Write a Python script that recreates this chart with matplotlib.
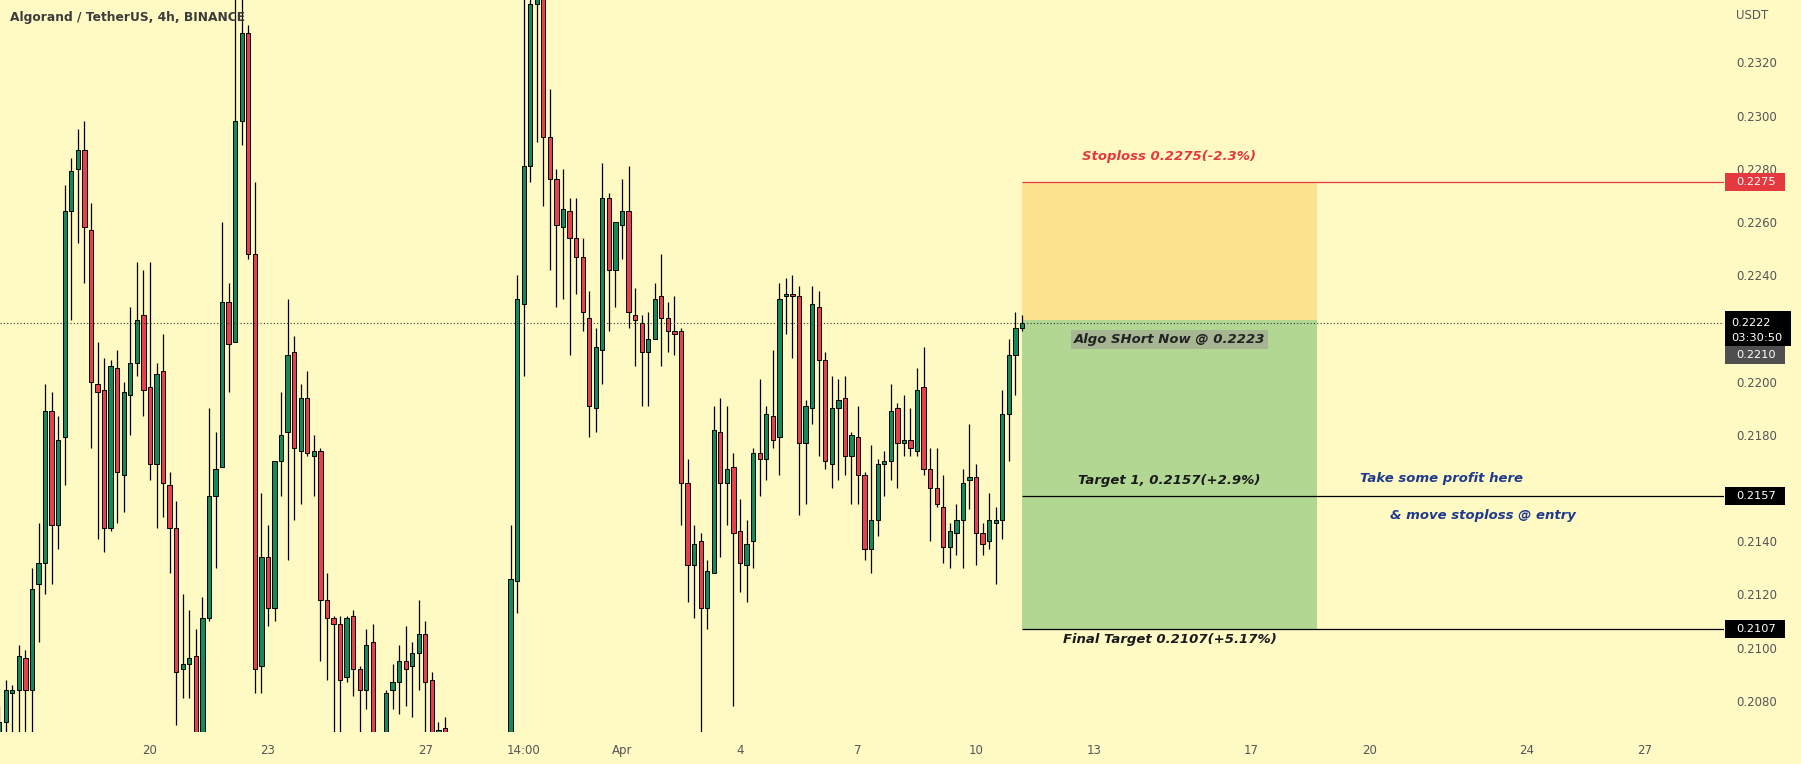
"""
ALGO/USDT 4h chart with a short position idea (stop, entry and two targets).
"""

import numpy as np
import pandas as pd
import matplotlib
matplotlib.use("Agg")
import matplotlib.pyplot as plt
from matplotlib.patches import Rectangle
from matplotlib.transforms import blended_transform_factory

matplotlib.style.use({
    'font.family': ['DejaVu Sans'],
    'font.size': 9.0,
    'axes.unicode_minus': False,
})

# 4h candles, first bar opens at first_bar
first_bar = "2023-03-16 06:00"
opens = [0.2064, 0.2072, 0.2083, 0.2084, 0.2096, 0.2084, 0.2124, 0.2132, 0.2189, 0.2146,
         0.2179, 0.2264, 0.2280, 0.2287, 0.2257, 0.2199, 0.2197, 0.2145, 0.2205, 0.2165,
         0.2195, 0.2207, 0.2225, 0.2198, 0.2169, 0.2204, 0.2161, 0.2145, 0.2092, 0.2094,
         0.2097, 0.2055, 0.2111, 0.2157, 0.2168, 0.2230, 0.2215, 0.2298, 0.2331, 0.2248,
         0.2093, 0.2134, 0.2115, 0.2170, 0.2181, 0.2211, 0.2174, 0.2194, 0.2172, 0.2174,
         0.2118, 0.2111, 0.2109, 0.2089, 0.2112, 0.2092, 0.2084, 0.2102, 0.2060, 0.2055,
         0.2084, 0.2087, 0.2095, 0.2093, 0.2098, 0.2105, 0.2088, 0.2062, 0.2070, 0.2062,
         0.2035, 0.2020, 0.2030, 0.2045, 0.2025, 0.2040, 0.2050, 0.2040, 0.2055, 0.2125,
         0.2229, 0.2281, 0.2342, 0.2350, 0.2292, 0.2276, 0.2258, 0.2264, 0.2254, 0.2247,
         0.2224, 0.2190, 0.2212, 0.2269, 0.2242, 0.2259, 0.2264, 0.2225, 0.2222, 0.2211,
         0.2216, 0.2232, 0.2224, 0.2219, 0.2219, 0.2162, 0.2131, 0.2140, 0.2115, 0.2128,
         0.2181, 0.2162, 0.2168, 0.2144, 0.2131, 0.2140, 0.2173, 0.2171, 0.2187, 0.2179,
         0.2232, 0.2233, 0.2232, 0.2177, 0.2190, 0.2228, 0.2208, 0.2169, 0.2190, 0.2194,
         0.2172, 0.2179, 0.2165, 0.2137, 0.2148, 0.2169, 0.2170, 0.2190, 0.2177, 0.2178,
         0.2174, 0.2198, 0.2167, 0.2160, 0.2153, 0.2138, 0.2143, 0.2148, 0.2163, 0.2164,
         0.2143, 0.2140, 0.2147, 0.2148, 0.2188, 0.2210, 0.2220]
highs = [0.2078, 0.2088, 0.2086, 0.2101, 0.2099, 0.2130, 0.2147, 0.2199, 0.2196, 0.2187,
         0.2274, 0.2284, 0.2295, 0.2298, 0.2267, 0.2215, 0.2209, 0.2208, 0.2212, 0.2200,
         0.2228, 0.2245, 0.2242, 0.2245, 0.2207, 0.2218, 0.2166, 0.2155, 0.2120, 0.2114,
         0.2107, 0.2119, 0.2190, 0.2181, 0.2260, 0.2237, 0.2365, 0.2372, 0.2334, 0.2275,
         0.2158, 0.2146, 0.2170, 0.2196, 0.2231, 0.2217, 0.2199, 0.2204, 0.2180, 0.2175,
         0.2128, 0.2112, 0.2112, 0.2112, 0.2114, 0.2093, 0.2107, 0.2109, 0.2066, 0.2084,
         0.2094, 0.2101, 0.2108, 0.2102, 0.2118, 0.2110, 0.2091, 0.2072, 0.2074, 0.2066,
         0.2050, 0.2040, 0.2055, 0.2060, 0.2045, 0.2062, 0.2064, 0.2060, 0.2146, 0.2240,
         0.2368, 0.2380, 0.2370, 0.2375, 0.2310, 0.2280, 0.2280, 0.2269, 0.2269, 0.2254,
         0.2234, 0.2220, 0.2282, 0.2271, 0.2260, 0.2276, 0.2281, 0.2235, 0.2225, 0.2226,
         0.2237, 0.2248, 0.2230, 0.2232, 0.2220, 0.2171, 0.2146, 0.2143, 0.2133, 0.2191,
         0.2194, 0.2191, 0.2173, 0.2156, 0.2148, 0.2175, 0.2201, 0.2191, 0.2212, 0.2237,
         0.2239, 0.2240, 0.2236, 0.2193, 0.2236, 0.2234, 0.2211, 0.2202, 0.2201, 0.2202,
         0.2181, 0.2191, 0.2166, 0.2176, 0.2171, 0.2174, 0.2199, 0.2192, 0.2195, 0.2190,
         0.2205, 0.2213, 0.2175, 0.2175, 0.2165, 0.2147, 0.2154, 0.2167, 0.2184, 0.2169,
         0.2147, 0.2158, 0.2153, 0.2197, 0.2216, 0.2226, 0.2225]
lows = [0.2058, 0.2062, 0.2062, 0.2064, 0.2064, 0.2064, 0.2102, 0.2120, 0.2124, 0.2137,
        0.2161, 0.2223, 0.2252, 0.2237, 0.2175, 0.2141, 0.2136, 0.2144, 0.2147, 0.2151,
        0.2180, 0.2202, 0.2187, 0.2163, 0.2145, 0.2149, 0.2128, 0.2071, 0.2081, 0.2081,
        0.2045, 0.2045, 0.2110, 0.2130, 0.2168, 0.2196, 0.2215, 0.2289, 0.2246, 0.2083,
        0.2083, 0.2108, 0.2110, 0.2157, 0.2133, 0.2148, 0.2154, 0.2172, 0.2157, 0.2095,
        0.2088, 0.2060, 0.2060, 0.2087, 0.2082, 0.2060, 0.2077, 0.2050, 0.2045, 0.2050,
        0.2077, 0.2075, 0.2078, 0.2074, 0.2084, 0.2062, 0.2050, 0.2055, 0.2050, 0.2025,
        0.2010, 0.2000, 0.2015, 0.2020, 0.2005, 0.2030, 0.2035, 0.2030, 0.2050, 0.2113,
        0.2202, 0.2275, 0.2290, 0.2266, 0.2242, 0.2228, 0.2231, 0.2210, 0.2233, 0.2219,
        0.2179, 0.2181, 0.2199, 0.2219, 0.2228, 0.2246, 0.2220, 0.2206, 0.2191, 0.2191,
        0.2216, 0.2206, 0.2211, 0.2210, 0.2146, 0.2117, 0.2111, 0.2065, 0.2107, 0.2128,
        0.2134, 0.2146, 0.2078, 0.2121, 0.2117, 0.2130, 0.2157, 0.2163, 0.2175, 0.2165,
        0.2218, 0.2209, 0.2150, 0.2154, 0.2184, 0.2172, 0.2167, 0.2160, 0.2163, 0.2165,
        0.2154, 0.2154, 0.2133, 0.2128, 0.2142, 0.2157, 0.2163, 0.2160, 0.2172, 0.2172,
        0.2172, 0.2165, 0.2140, 0.2153, 0.2132, 0.2130, 0.2135, 0.2130, 0.2152, 0.2131,
        0.2135, 0.2137, 0.2124, 0.2141, 0.2170, 0.2195, 0.2219]
closes = [0.2072, 0.2084, 0.2084, 0.2097, 0.2084, 0.2122, 0.2132, 0.2189, 0.2146, 0.2178,
          0.2264, 0.2279, 0.2287, 0.2258, 0.2200, 0.2196, 0.2145, 0.2206, 0.2166, 0.2196,
          0.2207, 0.2223, 0.2197, 0.2169, 0.2203, 0.2162, 0.2145, 0.2091, 0.2094, 0.2096,
          0.2055, 0.2111, 0.2157, 0.2167, 0.2230, 0.2214, 0.2298, 0.2331, 0.2248, 0.2092,
          0.2134, 0.2115, 0.2170, 0.2180, 0.2210, 0.2175, 0.2194, 0.2173, 0.2174, 0.2118,
          0.2111, 0.2109, 0.2088, 0.2111, 0.2092, 0.2084, 0.2101, 0.2060, 0.2055, 0.2083,
          0.2087, 0.2095, 0.2092, 0.2098, 0.2105, 0.2087, 0.2060, 0.2069, 0.2062, 0.2035,
          0.2020, 0.2030, 0.2045, 0.2025, 0.2040, 0.2050, 0.2040, 0.2055, 0.2126, 0.2231,
          0.2281, 0.2342, 0.2350, 0.2292, 0.2276, 0.2259, 0.2265, 0.2254, 0.2247, 0.2226,
          0.2191, 0.2213, 0.2269, 0.2242, 0.2260, 0.2264, 0.2226, 0.2223, 0.2211, 0.2216,
          0.2231, 0.2224, 0.2219, 0.2218, 0.2162, 0.2131, 0.2139, 0.2115, 0.2129, 0.2182,
          0.2162, 0.2167, 0.2143, 0.2132, 0.2139, 0.2173, 0.2171, 0.2188, 0.2178, 0.2231,
          0.2233, 0.2232, 0.2177, 0.2191, 0.2229, 0.2208, 0.2170, 0.2190, 0.2193, 0.2172,
          0.2180, 0.2165, 0.2137, 0.2148, 0.2169, 0.2170, 0.2189, 0.2177, 0.2178, 0.2175,
          0.2197, 0.2167, 0.2160, 0.2154, 0.2138, 0.2144, 0.2148, 0.2162, 0.2164, 0.2143,
          0.2139, 0.2148, 0.2148, 0.2188, 0.2210, 0.2220, 0.2222]

# time axis labels
tick_times = ["2023-03-20 02:00", "2023-03-23 02:00", "2023-03-27 02:00", "2023-03-29 14:00",
              "2023-04-01 02:00", "2023-04-04 02:00", "2023-04-07 02:00", "2023-04-10 02:00",
              "2023-04-13 02:00", "2023-04-17 02:00", "2023-04-20 02:00", "2023-04-24 02:00",
              "2023-04-27 02:00"]
tick_labels = ["20", "23", "27", "14:00", "Apr", "4", "7", "10", "13", "17", "20", "24", "27"]

# trade setup
entry = 0.2223
stoploss = 0.2275
target1 = 0.2157
final_target = 0.2107
last_price = 0.2222
countdown = "03:30:50"
marker_price = 0.2210
box_bars = 45

BG = "#fff9c4"
UP = "#148a5c"
DOWN = "#e5404c"
STOP_FILL = "#fde38f"
TARGET_FILL = "#b2d792"
STOP_RED = "#e53940"
AXIS_GREY = "#555555"


def price_tag(ax, y, label, fc, px_up=9, px_down=9, width=0.0348, text_x=1.0070,
              sub=None):
    """Coloured price label sitting on the right price scale."""
    trans = blended_transform_factory(ax.transAxes, ax.transData)
    px = (ax.get_ylim()[1] - ax.get_ylim()[0]) / ax.bbox.height
    ax.add_patch(Rectangle((1.0006, y - px_down * px), width, (px_up + px_down) * px,
                           transform=trans, fc=fc, ec="none", clip_on=False, zorder=5))
    ax.text(text_x, y, label, transform=trans, color="white", fontsize=8.2,
            va="center", ha="left", clip_on=False, zorder=6)
    if sub:
        dy, extra = sub
        ax.text(text_x, y - dy * px, extra, transform=trans, color="white",
                fontsize=8.2, va="center", ha="left", clip_on=False, zorder=6)


if __name__ == "__main__":

    o = np.array(opens)
    h = np.array(highs)
    l = np.array(lows)
    c = np.array(closes)
    x = np.arange(len(o))

    t0 = pd.Timestamp(first_bar)
    ticks = [(pd.Timestamp(t) - t0) / pd.Timedelta(hours=4) for t in tick_times]

    fig = plt.figure(figsize=(18.01, 7.64), dpi=100, facecolor=BG)
    ax = fig.add_axes([0.0, 0.04228, 0.95725, 0.95772], facecolor=BG)
    ax.set_xlim(0.12, 263.1)
    ax.set_ylim(0.206844, 0.234341)

    # candles
    colors = np.where(c >= o, UP, DOWN)
    ax.vlines(x, l, h, color="black", lw=0.9, zorder=2)
    ax.bar(x, c - o, bottom=o, width=0.66, color=colors, edgecolor="black",
           linewidth=0.7, zorder=3)

    # short position tool
    last = x[-1]
    ax.add_patch(Rectangle((last, entry), box_bars, stoploss - entry,
                           fc=STOP_FILL, ec="none", zorder=1))
    ax.add_patch(Rectangle((last, final_target), box_bars, entry - final_target,
                           fc=TARGET_FILL, ec="none", zorder=1))
    xmax = ax.get_xlim()[1]
    ax.hlines(stoploss, last, xmax, color=STOP_RED, lw=0.9, zorder=4)
    ax.hlines([target1, final_target], last, xmax, color="black", lw=0.9, zorder=4)
    ax.axhline(last_price, color="#333333", lw=0.8, ls=(0, (1, 2)), zorder=4)

    note = dict(style="italic", fontweight="bold", fontsize=9.5, ha="center", va="center")
    mid = last + box_bars / 2
    ax.text(mid, 0.22845, "Stoploss 0.2275(-2.3%)", color=STOP_RED, **note)
    ax.text(mid, 0.22158, "Algo SHort Now @ 0.2223", color="#222222",
            bbox=dict(boxstyle="square,pad=0.22", fc="#a6b592", ec="none"), **note)
    ax.text(mid, 0.21630, "Target 1, 0.2157(+2.9%)", color="#1a1a1a", **note)
    ax.text(mid, 0.21029, "Final Target 0.2107(+5.17%)", color="#1a1a1a", **note)
    ax.text(last + 64, 0.21637, "Take some profit here", color="#1f3a8c", **note)
    ax.text(last + 70.4, 0.21495, "& move stoploss @ entry", color="#1f3a8c", **note)

    # axes
    for s in ax.spines.values():
        s.set_visible(False)
    ax.yaxis.tick_right()
    ax.set_yticks(np.arange(0.2080, 0.2321, 0.002))
    # the 0.2220 and 0.2160 labels sit under the price tags
    hidden = [last_price, target1]
    ax.yaxis.set_major_formatter(matplotlib.ticker.FuncFormatter(
        lambda v, p: "" if min(abs(v - q) for q in hidden) < 0.0004 else f"{v:.4f}"))
    ax.tick_params(axis="y", length=0, pad=8.6, labelsize=8.5, labelcolor=AXIS_GREY)
    ax.set_xticks(ticks)
    ax.set_xticklabels(tick_labels)
    ax.tick_params(axis="x", length=0, pad=8.5, labelsize=8.5, labelcolor=AXIS_GREY)

    price_tag(ax, stoploss, "0.2275", STOP_RED)
    price_tag(ax, last_price, "0.2222", "black", px_up=12, px_down=23, width=0.0380,
              text_x=1.0040, sub=(15, countdown))
    price_tag(ax, marker_price, "0.2210", "#4f4f4f")
    price_tag(ax, target1, "0.2157", "black")
    price_tag(ax, final_target, "0.2107", "black")

    fig.text(1736 / 1801, 1 - 15.5 / 764, "USDT", color=AXIS_GREY, fontsize=8.5,
             ha="left", va="center")
    fig.text(9.6 / 1801, 1 - 18 / 764, "Algorand / TetherUS, 4h, BINANCE",
             color="#3c3c3c", fontsize=8.8, fontweight="bold", ha="left", va="center")

    fig.savefig("out.png", dpi=100, facecolor=BG)
